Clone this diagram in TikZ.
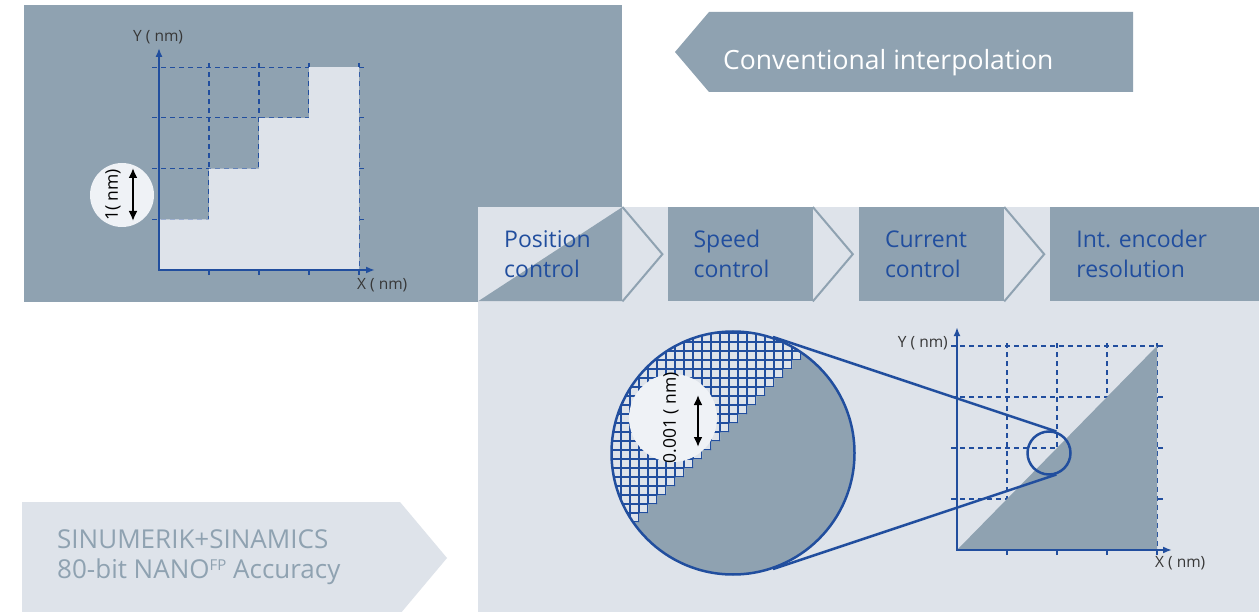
\documentclass[tikz,border=0pt]{standalone}
\usepackage{fontspec}
\setmainfont{Open Sans}
\usetikzlibrary{arrows.meta,positioning}
\frenchspacing

\definecolor{panelgray}{RGB}{143,162,177}
\definecolor{panellight}{RGB}{222,227,234}
\definecolor{badgewhite}{RGB}{239,242,246}
\definecolor{siemensblue}{RGB}{33,78,158}
\definecolor{labelgray}{RGB}{55,55,55}

\tikzset{
  gridline/.style={siemensblue, line width=1.1pt, dash pattern=on 5pt off 4pt},
  axes/.style={siemensblue, line width=2.6pt, {Latex[length=9pt,width=7pt]}-{Latex[length=9pt,width=7pt]}},
  axislabel/.style={text=labelgray, inner sep=0pt, font=\fontsize{15.5}{15.5}\selectfont},
  badge/.style={circle, fill=badgewhite, inner sep=0pt},
  badgetext/.style={rotate=90, text=black, inner sep=0pt, font=\fontsize{17.5}{17.5}\selectfont},
  sizearrow/.style={black, line width=2.6pt, {Latex[length=10pt,width=9pt]}-{Latex[length=10pt,width=9pt]}},
  stagebox/.style={fill=panelgray, minimum height=94pt, inner xsep=26pt, inner ysep=0pt, align=left, text=siemensblue, font=\fontsize{23}{30}\selectfont},
  chevron/.style={panelgray, line width=2pt},
  lens/.style={circle, draw=siemensblue, line width=2.5pt, inner sep=0pt},
  brandtext/.style={text=panelgray, inner sep=0pt, font=\fontsize{26}{26}\selectfont},
}

\begin{document}
\begin{tikzpicture}[x=1pt, y=-1pt]
  \fill[white] (0,0) rectangle (1259,612);
  \useasboundingbox (0,0) rectangle (1259,612);

  % panels
  \fill[panelgray] (24,5) rectangle (622,302);
  \fill[panellight] (478,207) rectangle (1259,612);

  % conventional interpolation banner
  \fill[panelgray] (1133,12) -- (709,12) -- (675,52) -- (709,92) -- (1133,92) -- cycle;
  \node[anchor=base west, inner sep=0pt, text=white, font=\fontsize{26.5}{26.5}\selectfont] (conv) at (723,70) {Conventional interpolation};

  % coarse grid, top left
  \begin{scope}[shift={(159,270)}, x=50pt, y=50.7pt]
    \foreach \k in {1,...,4} {
      \draw[gridline] (-0.14,\k) -- (4.14,\k);
      \draw[gridline] (\k,-0.1) -- (\k,4.14);
    }
    \fill[panellight] (0,0) -- (4,0) -- (4,4) -- (3,4) -- (3,3) -- (2,3) -- (2,2) -- (1,2) -- (1,1) -- (0,1) -- cycle;
    \draw[axes] (0,4.38) -- (0,0) -- (4.32,0);
    \node[axislabel, anchor=base west] (ycoarse) at (-0.52,4.5) {Y ( nm)};
    \node[axislabel, anchor=base west] (xcoarse) at (3.96,-0.375) {X ( nm)};
  \end{scope}
  \node[badge, minimum size=64pt] (coarse) at (122,195) {};
  \node[badgetext] (coarsetxt) at ([xshift=-9]coarse.center) {1( nm)};
  \draw[sizearrow] ([shift={(11,-27)}]coarse.center) -- ([shift={(11,26)}]coarse.center);

  % control chain
  \node[stagebox, fill=panellight, text width=92pt, anchor=north west,
        path picture={\fill[panelgray] (path picture bounding box.south west) -- (path picture bounding box.north east) -- (path picture bounding box.south east) -- cycle;}]
        (pos) at (478,207) {Position\\control};
  \node[stagebox, text width=93pt, right=45pt of pos] (spd) {Speed\\control};
  \node[stagebox, text width=93pt, right=46pt of spd] (cur) {Current\\control};
  \node[stagebox, text width=158pt, right=46pt of cur] (enc) {Int. encoder\\resolution};
  \foreach \b in {pos,spd,cur}
    \draw[chevron] (\b.north east) -- ([xshift=40]\b.east) -- (\b.south east);

  % fine grid, bottom right
  \begin{scope}[shift={(957,550)}, x=50pt, y=51pt]
    \foreach \k in {1,...,4} {
      \draw[gridline] (-0.12,\k) -- (4.14,\k);
      \draw[gridline] (\k,-0.1) -- (\k,4.12);
    }
    \fill[panelgray] (0,0) -- (4,0) -- (4,4) -- cycle;
    \draw[axes] (0,4.37) -- (0,0) -- (4.3,0);
    \node[axislabel, anchor=base east] (yfine) at (-0.18,3.98) {Y ( nm)};
    \node[axislabel, anchor=base west] (xfine) at (3.96,-0.35) {X ( nm)};
  \end{scope}

  % magnified view
  \begin{scope}
    \clip (733,453) circle[radius=121.5];
    \fill[panelgray] (733,453) circle[radius=121.5];
    \clip (621,540) \foreach \k in {0,...,22} { -- ++(0,-9) -- ++(9,0) } -- (860,300) -- (600,300) -- (600,560) -- cycle;
    \fill[panellight] (600,300) rectangle (860,580);
    \foreach \gx in {612,621,...,855}
      \draw[siemensblue, line width=1.1pt] (\gx,325) -- (\gx,580);
    \foreach \gy in {333,342,...,576}
      \draw[siemensblue, line width=1.1pt] (605,\gy) -- (860,\gy);
  \end{scope}
  \node[badge, minimum size=88pt] (fine) at (673,418) {};
  \node[badgetext] (finetxt) at ([xshift=-2]fine.center) {0.001 ( nm)};
  \draw[sizearrow] ([shift={(25,-23)}]fine.center) -- ([shift={(25,29)}]fine.center);
  \node[lens, minimum size=243pt] (mag) at (733,453) {};
  \node[lens, minimum size=43pt] (spot) at (1049,453) {};
  \draw[siemensblue, line width=2.5pt] (mag.71.5) -- (spot.71.5);
  \draw[siemensblue, line width=2.5pt] (mag.-71.5) -- (spot.-71.5);

  % accuracy banner
  \fill[panellight] (22,502) -- (400,502) -- (447,558) -- (400,614) -- (22,614) -- cycle;
  \node[brandtext, anchor=base west] (brand) at (57,548) {SINUMERIK+SINAMICS};
  \node[brandtext, anchor=base west] (bits) at (57,578) {80-bit NANO\raisebox{7.5pt}{\fontsize{15}{15}\selectfont FP} Accuracy};
\end{tikzpicture}
\end{document}
